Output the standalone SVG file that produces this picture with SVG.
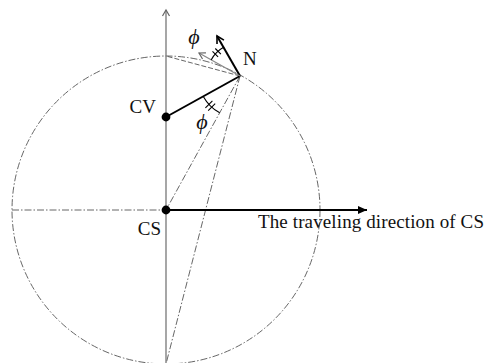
<svg xmlns="http://www.w3.org/2000/svg" width="487" height="363" viewBox="0 0 487 363">
<style>
.t{font-family:"Liberation Serif","Times New Roman",serif;font-size:19px;fill:#111}
.p{font-family:"Liberation Serif","DejaVu Serif",serif;font-size:22px;fill:#111;font-style:italic}
.dd{fill:none;stroke:#555;stroke-width:0.9;stroke-dasharray:7 2 1.5 2}
.ds{fill:none;stroke:#555;stroke-width:0.9;stroke-dasharray:5 2}
.k{fill:none;stroke:#000;stroke-width:2}
.m{fill:none;stroke:#000;stroke-width:1.1}
</style>
<defs>
<marker id="ag" markerWidth="10" markerHeight="10" refX="8" refY="5" orient="auto" markerUnits="userSpaceOnUse">
<path d="M2,1.5 L8,5 L2,8.5" fill="none" stroke="#666" stroke-width="1.2"/>
</marker>
<marker id="ak" markerWidth="12" markerHeight="12" refX="9" refY="6" orient="auto" markerUnits="userSpaceOnUse">
<path d="M2,2 L9,6 L2,10" fill="none" stroke="#000" stroke-width="1.6"/>
</marker>
<marker id="af" markerWidth="12" markerHeight="12" refX="10" refY="6" orient="auto" markerUnits="userSpaceOnUse">
<path d="M1,2 L10,6 L1,10 Z" fill="#000"/>
</marker>
</defs>
<g id="connectors">
<circle class="dd" cx="166" cy="210" r="154"/>
<line class="dd" x1="12" y1="210" x2="166" y2="210"/>
<line class="dd" x1="240" y1="76" x2="166" y2="210"/>
<line class="dd" x1="240" y1="76" x2="166" y2="364"/>
<line class="ds" x1="240" y1="76" x2="166" y2="56"/>
<line x1="166" y1="363" x2="166" y2="10" stroke="#777" stroke-width="1.3" marker-end="url(#ag)"/>
<line class="k" x1="166" y1="210" x2="367" y2="210" marker-end="url(#af)"/>
<line class="k" x1="166" y1="117" x2="240" y2="76"/>
<line class="k" x1="240" y1="76" x2="217" y2="36" marker-end="url(#ak)"/>
<line x1="240" y1="76" x2="199" y2="53" stroke="#888" stroke-width="1.2" marker-end="url(#ag)"/>
<path class="m" d="M203.3,96.4 A42,42 0 0 0 219.7,112.8"/>
<path class="m" d="M212.4,100.8 L205.4,107.8 M215.2,103.6 L208.2,110.6"/>
<path class="m" d="M211.1,60 A33,33 0 0 1 224,47.1"/>
<path class="m" d="M220.9,54.1 L215.3,48.5 M218.1,56.9 L212.5,51.3"/>
</g>
<g id="CV">
<circle cx="166" cy="117" r="4.4" fill="#000"/>
<text class="t" x="156" y="113" text-anchor="end">CV</text>
</g>
<g id="CS">
<circle cx="166" cy="210" r="4.4" fill="#000"/>
<text class="t" x="161" y="235" text-anchor="end">CS</text>
</g>
<g id="N">
<text class="t" x="243" y="65">N</text>
</g>
<g id="labels">
<text class="p" x="194" y="44" text-anchor="middle">ϕ</text>
<text class="p" x="202" y="129" text-anchor="middle">ϕ</text>
<text class="t" x="258" y="228" textLength="226">The traveling direction of CS</text>
</g>
</svg>
